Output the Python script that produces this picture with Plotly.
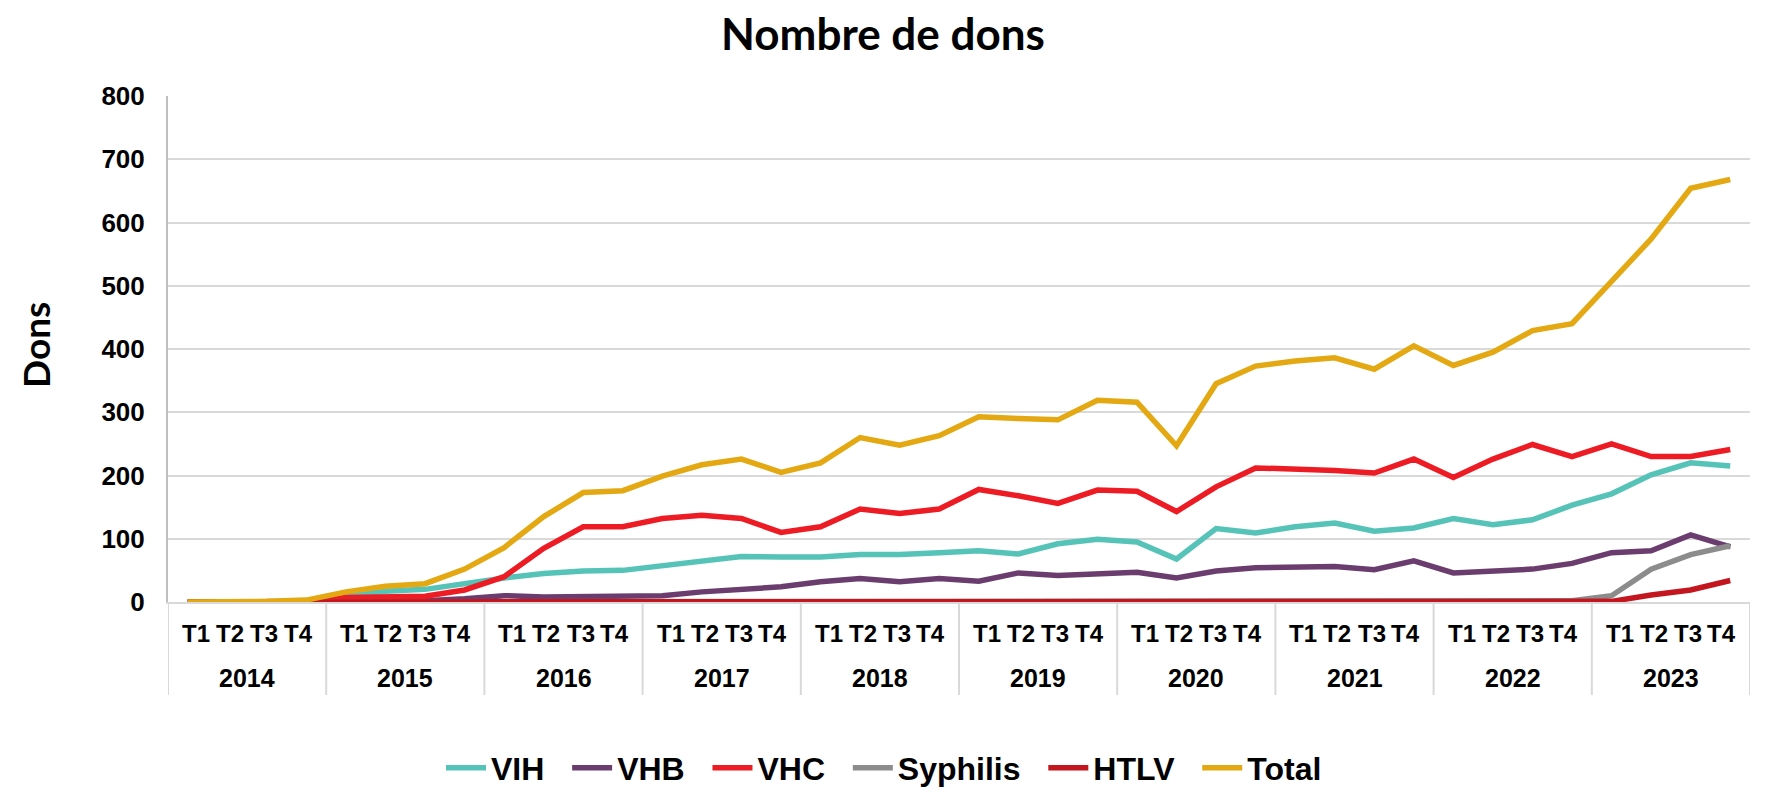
import plotly.graph_objects as go

years = ["2014", "2015", "2016", "2017", "2018", "2019", "2020", "2021", "2022", "2023"]
quarters = ["T1", "T2", "T3", "T4"]

vih = [0, 0, 0, 0, 9, 17, 20, 30, 38, 45, 49, 50, 57, 66, 72, 71, 71, 75, 75, 78,
       81, 76, 92, 99, 95, 68, 116, 109, 119, 125, 112, 117, 132, 122, 130, 153,
       171, 201, 220, 215]
vhb = [0, 0, 0, 0, 0, 1, 2, 5, 10, 8, 9, 10, 10, 16, 19, 24, 32, 37, 32, 37,
       33, 46, 42, 45, 47, 38, 49, 54, 54, 56, 51, 65, 46, 49, 52, 61,
       78, 81, 106, 87]
vhc = [0, 0, 0, 0, 7, 9, 9, 19, 40, 85, 119, 119, 132, 137, 132, 110, 119, 147, 140, 147,
       178, 168, 156, 177, 175, 143, 182, 212, 211, 208, 204, 226, 197, 226, 249, 230,
       250, 230, 230, 241]
syphilis = [0] * 35 + [2, 10, 52, 75, 89]
htlv = [0] * 36 + [1, 11, 19, 34]
total = [0, 0, 1, 3, 16, 25, 29, 52, 86, 135, 173, 176, 199, 217, 226, 205, 220, 260, 248, 263,
         293, 290, 288, 319, 316, 247, 345, 373, 381, 386, 368, 405, 374, 395, 429, 440,
         506, 574, 654, 668]

series_names = ["VIH", "VHB", "VHC", "Syphilis", "HTLV", "Total"]
series_values = [vih, vhb, vhc, syphilis, htlv, total]
colors = ["#56C3B9", "#6B3D6E", "#ED1C24", "#8C8C8C", "#C3161F", "#E3A812"]

x_cats = [f"{y} {q}" for y in years for q in quarters]
n_q = len(quarters)

# page body has an 8px margin: the figure is sized to fit inside it
W, H = 1749, 781
ML, MR, MT, MB = 160, 7, 88, 187
PW, PH = W - ML - MR, H - MT - MB

AX_FONT = "Liberation Sans, Arial, sans-serif"
TITLE_FONT = "Lato, Open Sans, sans-serif"
PAD = "\u00a0\u00a0"

fig = go.Figure()
for name, vals, col in zip(series_names, series_values, colors):
    fig.add_trace(go.Scatter(
        x=x_cats, y=vals, name=name + PAD, mode="lines",
        line=dict(color=col, width=5.5),
    ))

annotations = [dict(
    text="<b>Dons</b>", textangle=-90, xref="paper", yref="paper",
    x=-(ML - 27) / PW, y=0.5 + 4 / PH, xanchor="center", yanchor="middle", showarrow=False,
    font=dict(family=TITLE_FONT, size=37, color="black"),
)]
q_step = 34.0 / 39.5
for i, yr in enumerate(years):
    center = i * n_q + (n_q - 1) / 2
    annotations.append(dict(
        text=yr, xref="x", yref="paper", x=center,
        y=-(678 - 602) / PH, xanchor="center", yanchor="middle", showarrow=False,
        font=dict(family=AX_FONT, size=25, color="black", weight="bold"),
    ))
    for j, q in enumerate(quarters):
        annotations.append(dict(
            text=q, xref="x", yref="paper", x=center + (j - (n_q - 1) / 2) * q_step,
            y=-(633 - 602) / PH, xanchor="center", yanchor="middle", showarrow=False,
            font=dict(family=AX_FONT, size=24, color="black", weight="bold"),
        ))

shapes = []
for i in range(len(years) + 1):
    xv = i * n_q - 0.5
    shapes.append(dict(type="line", xref="x", yref="paper", x0=xv, x1=xv,
                       y0=0, y1=-(695 - 602) / PH,
                       line=dict(color="#D9D9D9", width=2)))

fig.update_layout(
    width=W, height=H,
    margin=dict(l=ML, r=MR, t=MT, b=MB, autoexpand=False),
    paper_bgcolor="white", plot_bgcolor="white",
    title=dict(text="<b>Nombre de dons</b>", x=875 / W, xref="container", xanchor="center",
               y=1 - 27 / H, yref="container", yanchor="middle",
               font=dict(family=TITLE_FONT, size=44, color="black")),
    showlegend=True,
    legend=dict(orientation="h", x=(433 - ML) / PW, xanchor="left",
                y=-(760 - (H - MB)) / PH, yanchor="middle",
                font=dict(family=AX_FONT, size=32, color="black", weight="bold"),
                itemwidth=40, tracegroupgap=0),
    xaxis=dict(
        type="category", range=[-0.5, len(x_cats) - 0.5],
        showticklabels=False, showgrid=False, automargin=False,
        showline=True, linecolor="#D9D9D9", linewidth=2,
        ticks="",
    ),
    yaxis=dict(
        range=[0, 800], dtick=100, automargin=False,
        showgrid=True, gridcolor="#D9D9D9", gridwidth=2,
        showline=True, linecolor="#BFBFBF", linewidth=2,
        zeroline=False,
        ticks="", ticklabelstandoff=16,
        tickfont=dict(family=AX_FONT, size=26, color="black", weight="bold"),
    ),
    annotations=annotations,
    shapes=shapes,
)

fig.write_html("out.html")
